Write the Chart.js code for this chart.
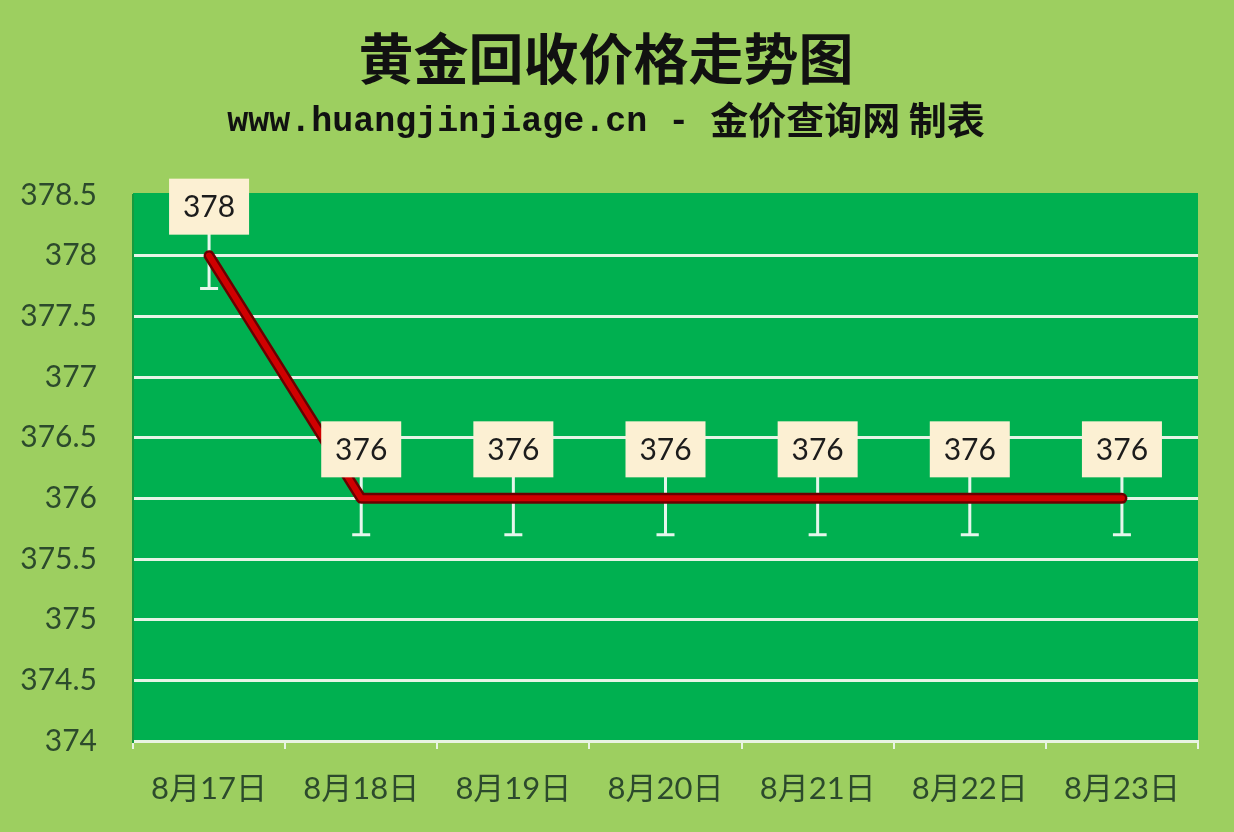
<!DOCTYPE html>
<html>
<head>
<meta charset="utf-8">
<script src="https://cdn.jsdelivr.net/npm/chart.js@4/dist/chart.umd.min.js"></script>
<style>
  html, body { margin: 0; padding: 0; background: #9dcf60; }
  #wrap { width: 1234px; height: 832px; }
</style>
</head>
<body>
<div id="wrap"><canvas id="goldChart" width="1234" height="832"></canvas></div>
<script>
// 数据
const labels = ["8月17日", "8月18日", "8月19日", "8月20日", "8月21日", "8月22日", "8月23日"];
const prices = [378, 376, 376, 376, 376, 376, 376];
const errPlus = [0.3, 0.3, 0.3, 0.3, 0.3, 0.3, 0.3];
const errMinus = [0.27, 0.3, 0.3, 0.3, 0.3, 0.3, 0.3];
const yMin = 374;
const yMax = 378.5;
const yStep = 0.5;

const titleText = "黄金回收价格走势图";
const subLatin = "www.huangjinjiage.cn - ";
const subCjk = "金价查询网 制表";

const CJK = "'Noto Sans CJK SC'";
const tickFont = "Lato, " + CJK;

// 背景 + 绘图区
const bgPlugin = {
    id: "bg",
    beforeDraw(chart) {
        const c = chart.ctx;
        const a = chart.chartArea;
        c.save();
        c.fillStyle = "#9dcf60";
        c.fillRect(0, 0, chart.width, chart.height);
        c.fillStyle = "#00b050";
        c.fillRect(a.left, a.top - 2, a.right - a.left, a.bottom - a.top + 2);
        c.restore();
    }
};

// 误差线
const errPlugin = {
    id: "errbars",
    beforeDatasetsDraw(chart) {
        const c = chart.ctx;
        const x = chart.scales.x;
        const y = chart.scales.y;
        c.save();
        c.strokeStyle = "#e6f6ec";
        c.lineWidth = 3;
        prices.forEach((v, i) => {
            const px = x.getPixelForValue(i);
            const top = y.getPixelForValue(v + errPlus[i]);
            const bot = y.getPixelForValue(v - errMinus[i]);
            c.beginPath();
            c.moveTo(px, top);
            c.lineTo(px, bot);
            c.moveTo(px - 9, bot);
            c.lineTo(px + 9, bot);
            c.stroke();
        });
        c.restore();
    }
};

// 数据标签
const labelPlugin = {
    id: "boxes",
    afterDatasetsDraw(chart) {
        const c = chart.ctx;
        const x = chart.scales.x;
        const y = chart.scales.y;
        c.save();
        c.font = "30px " + tickFont;
        c.textAlign = "center";
        c.textBaseline = "middle";
        prices.forEach((v, i) => {
            const px = x.getPixelForValue(i);
            const cy = y.getPixelForValue(v) - 49;
            c.fillStyle = "#fcf0d3";
            c.fillRect(px - 40, cy - 28, 80, 56);
            c.fillStyle = "#1c1c1c";
            c.fillText(String(v), px, cy + 1);
        });
        c.restore();
    }
};

// 标题
const titlePlugin = {
    id: "titles",
    afterDraw(chart) {
        const c = chart.ctx;
        const cx = 606;
        c.save();
        c.fillStyle = "#111";
        c.textBaseline = "middle";
        c.textAlign = "center";
        c.font = "bold 55px " + CJK;
        c.fillText(titleText, cx, 58);

        const f1 = "bold 35px 'Liberation Mono', 'DejaVu Sans Mono', monospace";
        const f2 = "bold 38px " + CJK;
        c.font = f1;
        const w1 = c.measureText(subLatin).width;
        c.font = f2;
        const w2 = c.measureText(subCjk).width;
        let sx = cx - (w1 + w2) / 2;
        c.textAlign = "left";
        c.font = f1;
        c.fillText(subLatin, sx, 122);
        c.font = f2;
        c.fillText(subCjk, sx + w1, 120);
        c.restore();
    }
};

const ctx = document.getElementById("goldChart");

new Chart(ctx, {
    type: "line",
    data: {
        labels: labels,
        datasets: [
            {
                data: prices,
                borderColor: "#6a0000",
                borderWidth: 11,
                pointRadius: 0,
                borderJoinStyle: "round",
                borderCapStyle: "round",
                tension: 0,
                order: 2
            },
            {
                data: prices,
                borderColor: "#d00000",
                borderWidth: 6,
                pointRadius: 0,
                borderJoinStyle: "round",
                borderCapStyle: "round",
                tension: 0,
                order: 1
            }
        ]
    },
    options: {
        responsive: false,
        animation: false,
        devicePixelRatio: 1,
        layout: { padding: { top: 195, right: 36, left: 0, bottom: 0 } },
        plugins: {
            legend: { display: false },
            tooltip: { enabled: false }
        },
        scales: {
            x: {
                offset: true,
                afterFit(s) { s.height = 91; },
                grid: {
                    offset: true,
                    drawOnChartArea: false,
                    drawTicks: true,
                    tickLength: 8,
                    color: "#e8f4e2",
                    lineWidth: 2
                },
                border: { color: "#e8f4e2", width: 3 },
                ticks: {
                    color: "#2c4a2c",
                    font: { family: tickFont, size: 31 },
                    padding: 21,
                    maxRotation: 0
                }
            },
            y: {
                min: yMin,
                max: yMax,
                afterFit(s) { s.width = 133; },
                grid: {
                    drawTicks: false,
                    lineWidth: 3,
                    color: (c) => (c.tick && c.tick.value === yMax) ? "rgba(0,0,0,0)" : "#e6f4e6"
                },
                border: { color: "#179a3e", width: 2 },
                ticks: {
                    stepSize: yStep,
                    color: "#2c4a2c",
                    font: { family: tickFont, size: 30 },
                    padding: 36,
                    callback: (v) => String(v)
                }
            }
        }
    },
    plugins: [bgPlugin, errPlugin, labelPlugin, titlePlugin]
});
</script>
</body>
</html>
